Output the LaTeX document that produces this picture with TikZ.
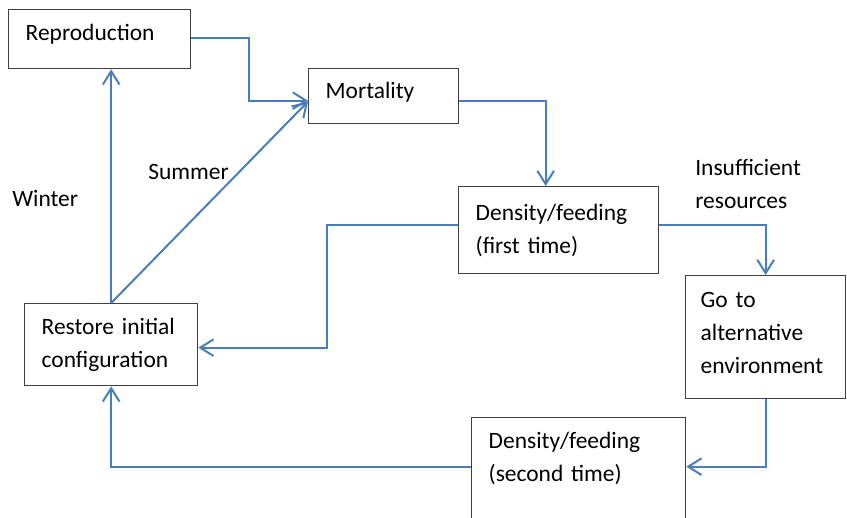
\documentclass[tikz,border=0pt]{standalone}
\usepackage{fontspec}
\setmainfont{Carlito}
\usetikzlibrary{arrows.meta}
\definecolor{flowblue}{RGB}{74,126,187}
\definecolor{boxgray}{RGB}{64,64,64}
\begin{document}
\begin{tikzpicture}[x=0.75pt,y=0.75pt,yscale=-1,xscale=1,
  every node/.style={font=\fontsize{17.6}{24.75}\selectfont},
  stage/.style={draw=boxgray, line width=1pt, anchor=north west, align=left, inner xsep=12.75pt, inner ysep=0pt},
  lift/.style={execute at end node={\rule[-#1]{0pt}{0pt}}},
  flow/.style={draw=flowblue, line width=1.5pt, -{Straight Barb[length=10pt,width=12.5pt]}},
  tag/.style={anchor=west, inner sep=0pt, align=left}]
\useasboundingbox (0,0) rectangle (847,518);
\clip (0,0) rectangle (847,518);
% Boxes
\node[stage, text width=111pt, minimum height=44.25pt, lift=9.7pt] (repro) at (8,9) {Reproduction};
\node[stage, text width=87pt, minimum height=41.25pt, lift=8.2pt] (mort) at (308,68) {Mortality};
\node[stage, text width=124.5pt, minimum height=65.25pt] (dens1) at (458,186) {Density/feeding\\(first time)};
\node[stage, text width=97.5pt, minimum height=92.25pt, inner xsep=11.25pt, lift=6pt] (alt) at (685,275) {Go to\\alternative\\environment};
\node[stage, text width=104.25pt, minimum height=61.5pt] (restore) at (24,303) {Restore initial\\configuration};
\node[stage, text width=135pt, minimum height=84pt] (dens2) at (471,417) {Density/feeding\\(second time)\\\mbox{}};
% Text Node
\node[tag] (winter) at (12,199) {Winter};
% Text Node
\node[tag] (summer) at (148,172) {Summer};
% Text Node
\node[tag] (insuff) at (695,184) {Insufficient\\resources};
% Connectors
\draw[flow] ([yshift=-1.1pt]repro.east) -- ++(58,0) |- ([yshift=3.4pt]mort.west);
\draw[flow] ([yshift=3.4pt]mort.east) -| ([xshift=-9.75pt]dens1.north);
\draw[flow] ([yshift=-4.1pt]dens1.east) -| (alt.north);
\draw[flow] (alt.south) |- ([yshift=-5.25pt]dens2.east);
\draw[flow] ([yshift=-5.25pt]dens2.west) -| (restore.south);
\draw[flow] ([yshift=-4.1pt]dens1.west) -- ++(-131,0) |- ([yshift=2.25pt]restore.east);
\draw[flow] (restore.north) -- (restore.north |- repro.south);
\draw[flow] (restore.north) -- ([yshift=4pt]mort.west);
\end{tikzpicture}
\end{document}
